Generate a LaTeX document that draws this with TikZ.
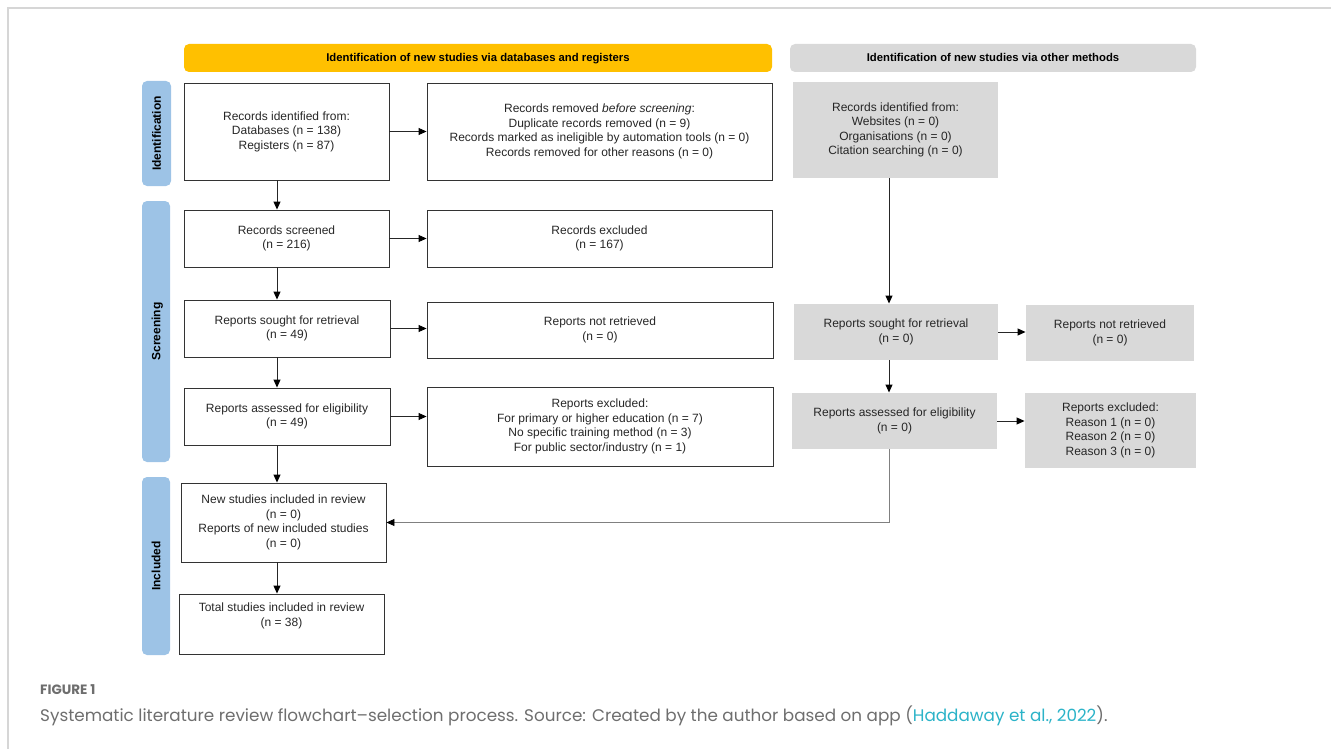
\documentclass[tikz,border=0pt]{standalone}
\usepackage{fontspec}
\setmainfont{Liberation Sans}
\newfontfamily\capfont{Poppins}
\usetikzlibrary{arrows.meta}
\definecolor{prismayellow}{HTML}{FFC000}
\definecolor{prismagrey}{HTML}{D9D9D9}
\definecolor{prismablue}{HTML}{9DC3E6}
\definecolor{capgrey}{HTML}{6E6E6E}
\definecolor{citeblue}{HTML}{2BB3C8}
\tikzset{
  centered/.style = { align=center, anchor=center },
     spans/.style n args = {4}{ at={({(#1+#3)/2},{(#2+#4)/2})},
                      minimum width={(#3-#1)*1pt}, minimum height={(#4-#2)*1pt} },
       box/.style = { draw=black!80, line width=0.9pt, inner sep=0pt, centered,
                      font=\fontsize{12}{14.5}\selectfont, text=black!85 },
      gbox/.style = { box, draw=none, fill=prismagrey },
    header/.style = { inner sep=0pt, rounded corners=5pt, centered, text height=8pt, text depth=0pt,
                      font=\bfseries\fontsize{11.3}{13}\selectfont },
      side/.style = { fill=prismablue, rounded corners=5pt, inner sep=0pt, centered },
  sidetext/.style = { rotate=90, text height=8.5pt, text depth=0pt, font=\bfseries\fontsize{12}{14}\selectfont },
     arrow/.style = { line width=0.9pt, draw=black!85, -{Triangle[length=8pt,width=7pt,color=black]} },
    garrow/.style = { arrow, draw=gray }
}

\begin{document}
\begin{tikzpicture}[x=1pt,y=-1pt]
  \useasboundingbox (0,0) rectangle (1331,749);
  \draw[line width=1.5pt, color=black!16] (8,749) -- (8,8) -- (1331,8);

  % headers
  \node[header, fill=prismayellow, spans={184}{44}{772}{72}] (hdb) {Identification of new studies via databases and registers};
  \node[header, fill=prismagrey, spans={790}{44}{1196}{72}] (hother) {Identification of new studies via other methods};

  % side bars
  \node[side, spans={142}{81}{171}{186}] (sid) {};
  \node[sidetext] (sidt) at (sid) {Identification};
  \node[side, spans={142}{201}{170}{462}] (scr) {};
  \node[sidetext] (scrt) at (scr) {Screening};
  \node[side, spans={142}{477}{170}{655}] (inc) {};
  \node[sidetext] (inct) at (inc) {Included};

  % databases and registers
  \node[box, spans={184}{83}{389}{180}] (A) {Records identified from:\\Databases (n = 138)\\Registers (n = 87)};
  \node[box, spans={427}{83}{772}{180}] (B) {Records removed \textit{before screening}:\\Duplicate records removed (n = 9)\\Records marked as ineligible by automation tools (n = 0)\\Records removed for other reasons (n = 0)};
  \node[box, spans={184}{210}{389}{267}] (D) {Records screened\\(n = 216)};
  \node[box, spans={427}{210}{772}{267}] (E) {Records excluded\\(n = 167)};
  \node[box, spans={184}{300}{390}{357}] (F) {Reports sought for retrieval\\(n = 49)};
  \node[box, spans={427}{302}{773}{358}] (G) {Reports not retrieved\\(n = 0)};
  \node[box, spans={184}{388}{390}{445}] (H) {Reports assessed for eligibility\\(n = 49)};
  \node[box, spans={427}{387}{773}{466}] (I) {Reports excluded:\\For primary or higher education (n = 7)\\No specific training method (n = 3)\\For public sector/industry (n = 1)};
  \node[box, spans={181}{483}{386}{562}] (N) {New studies included in review\\(n = 0)\\Reports of new included studies\\(n = 0)};
  \node[box, spans={179}{594}{384}{654}] (O) {Total studies included in review\\(n = 38)\\\strut};

  % other methods
  \node[gbox, spans={793}{82}{998}{178}] (C) {Records identified from:\\Websites (n = 0)\\Organisations (n = 0)\\Citation searching (n = 0)};
  \node[gbox, spans={794}{304}{998}{360}] (J) {Reports sought for retrieval\\(n = 0)};
  \node[gbox, spans={1026}{305}{1194}{361}] (K) {Reports not retrieved\\(n = 0)};
  \node[gbox, spans={792}{393}{997}{449}] (L) {Reports assessed for eligibility\\(n = 0)};
  \node[gbox, spans={1025}{393}{1196}{468}] (M) {Reports excluded:\\Reason 1 (n = 0)\\Reason 2 (n = 0)\\Reason 3 (n = 0)};

  \coordinate (lx) at (277,0);
  \coordinate (rx) at (889,0);

  % connectors
  \foreach \s/\t in {A/D, D/F, F/H, H/N, N/O} {
    \draw[arrow] (\s.south -| lx) -- (\t.north -| lx);
  }
  \foreach \s/\t in {A/B, D/E, F/G, H/I, J/K, L/M} {
    \draw[arrow] (\s.east) -- (\s.east -| \t.west);
  }
  \draw[arrow] (C.south -| rx) -- (J.north -| rx);
  \draw[arrow] (J.south -| rx) -- (L.north -| rx);
  \draw[garrow] (L.south -| rx) |- (N.east);

  % caption
  \node[anchor=base west, inner sep=0pt, text=capgrey, font=\capfont\bfseries\fontsize{13.5}{15}\selectfont] (fig) at (40,694) {FIGURE 1};
  \node[anchor=base west, inner sep=0pt, text=capgrey, font=\capfont\fontsize{16.8}{19}\selectfont] (cap) at (40,721) {Systematic literature review flowchart\textendash selection process. Source: Created by the author based on app (\textcolor{citeblue}{Haddaway et al., 2022}).};
\end{tikzpicture}
\end{document}
